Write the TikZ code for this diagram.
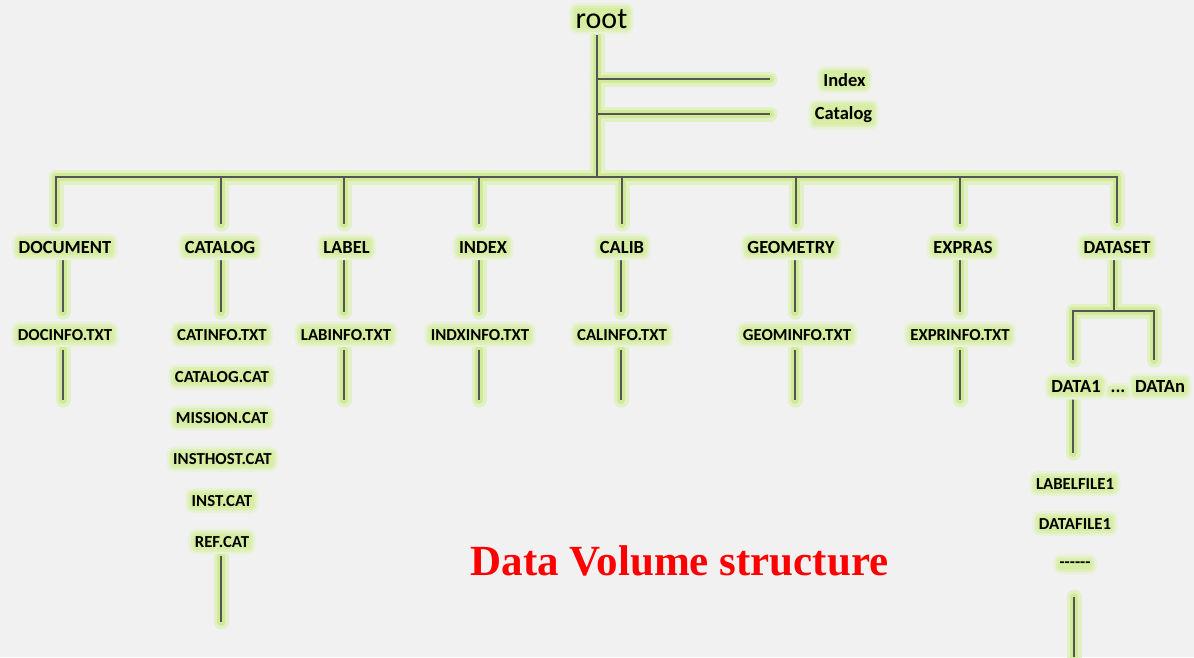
\documentclass[tikz,border=0pt]{standalone}
\usepackage{fontspec}
\setmainfont{Carlito}
\newfontfamily\titlefont{Liberation Serif}

\definecolor{bgpaper}{RGB}{241,241,241}
\definecolor{wiregray}{RGB}{85,85,85}
\definecolor{glow}{RGB}{208,234,150}
\definecolor{glowpale}{RGB}{226,240,198}
\definecolor{haloA}{RGB}{214,237,162}
\definecolor{haloB}{RGB}{222,240,185}
\definecolor{haloC}{RGB}{233,242,215}
\definecolor{titlered}{RGB}{255,0,0}

\tikzset{
  halo/.style={rounded corners=3pt, fill=haloA,
    preaction={draw=haloC, line width=10pt, rounded corners=3pt},
    preaction={draw=haloB, line width=5pt, rounded corners=3pt}},
  dirlbl/.style={halo, anchor=base, inner xsep=1.5pt, inner ysep=2pt,
    font=\bfseries\fontsize{18.5}{20}\selectfont},
  filelbl/.style={halo, anchor=base, inner xsep=1.5pt, inner ysep=2pt,
    font=\bfseries\fontsize{16.8}{19}\selectfont},
  rootlbl/.style={halo, anchor=base, inner xsep=1.5pt, inner ysep=1pt,
    font=\fontsize{30}{32}\selectfont},
  glowwide/.style={draw=glowpale, line width=15pt, line cap=round, line join=round},
  glownarrow/.style={draw=glow, line width=8pt, line cap=round, line join=round},
  wirecore/.style={draw=wiregray, line width=2pt},
}

% every connector of the tree as one path, so it can be stroked in layers
\newcommand\treewires[1]{%
  \draw[#1]
    % root trunk and its two side branches
    (trunktop) -- (trunkbot)
    (597,79) -- (idxend)
    (597,114) -- (catend)
    % main bus and drops to the directories
    (56,224) -- (56,177) -- (1117,177) -- (1117,223)
    (221,177) -- (221,224)
    (344,177) -- (344,224)
    (479,177) -- (479,224)
    (622,177) -- (622,224)
    (796,177) -- (796,224)
    (960,177) -- (960,224)
    % directory to first file
    (63,257) -- (63,312)
    (221,257) -- (221,312)
    (344,257) -- (344,312)
    (479,257) -- (479,312)
    (621,257) -- (621,312)
    (795,257) -- (795,312)
    (960,257) -- (960,312)
    % continuation below the first file
    (63,350) -- (63,400)
    (344,350) -- (344,400)
    (479,350) -- (479,400)
    (621,350) -- (621,400)
    (795,350) -- (795,400)
    (960,350) -- (960,400)
    % continuation below the catalog list
    (221,556) -- (221,622)
    % dataset branch
    (1114,257) -- (1114,311)
    (1073,360) -- (1073,311) -- (1154,311) -- (1154,360)
    (1073,398) -- (1073,453)
    (1074,597) -- (1074,657);
}

\begin{document}
\begin{tikzpicture}[x=1pt, y=-1pt]
  \fill[bgpaper] (0,0) rectangle (1194,657);
  \useasboundingbox (0,0) rectangle (1194,657);

  \coordinate (trunktop) at (597,35);
  \coordinate (trunkbot) at (597,177);
  \coordinate (idxend) at (770,79);
  \coordinate (catend) at (770,114);

  \treewires{glowwide}
  \treewires{glownarrow}
  \treewires{wirecore}

  % root and its entries
  \node[rootlbl] (root) at (601.5,28) {root};
  \node[dirlbl] (idx) at (844.5,86) {Index};
  \node[dirlbl] (cat) at (843.5,119.5) {Catalog};

  % directories
  \node[dirlbl] (document) at (65,253) {DOCUMENT};
  \node[dirlbl] (catalog) at (220,253) {CATALOG};
  \node[dirlbl] (label) at (346.5,253) {LABEL};
  \node[dirlbl] (index) at (483,253) {INDEX};
  \node[dirlbl] (calib) at (622,253) {CALIB};
  \node[dirlbl] (geometry) at (791,253) {GEOMETRY};
  \node[dirlbl] (expras) at (963,253) {EXPRAS};
  \node[dirlbl] (dataset) at (1117,253) {DATASET};

  % files
  \node[filelbl] (docinfo) at (65,340) {DOCINFO.TXT};
  \node[filelbl] (catinfo) at (222,340) {CATINFO.TXT};
  \node[filelbl] (labinfo) at (346,340) {LABINFO.TXT};
  \node[filelbl] (indxinfo) at (480,340) {INDXINFO.TXT};
  \node[filelbl] (calinfo) at (622,340) {CALINFO.TXT};
  \node[filelbl] (geominfo) at (797,340) {GEOMINFO.TXT};
  \node[filelbl] (exprinfo) at (960,340) {EXPRINFO.TXT};

  \node[filelbl] (catalogcat) at (222,382.5) {CATALOG.CAT};
  \node[filelbl] (missioncat) at (222,423.5) {MISSION.CAT};
  \node[filelbl] (insthostcat) at (222.5,464.5) {INSTHOST.CAT};
  \node[filelbl] (instcat) at (222,506) {INST.CAT};
  \node[filelbl] (refcat) at (222,547) {REF.CAT};

  % dataset contents
  \node[dirlbl] (data1) at (1076,392.5) {DATA1};
  \node[dirlbl] (dataellipsis) at (1118,392.5) {...};
  \node[dirlbl] (datan) at (1160,392.5) {DATAn};
  \node[filelbl] (labelfile) at (1075,489) {LABELFILE1};
  \node[filelbl] (datafile) at (1075,529) {DATAFILE1};
  \node[filelbl] (morefiles) at (1075,567) {{-}{-}{-}{-}{-}{-}};

  % caption
  \node[anchor=base, inner sep=0pt, text=titlered,
        font=\titlefont\bfseries\fontsize{43}{46}\selectfont]
        (caption) at (679.5,575) {Data Volume structure};
\end{tikzpicture}
\end{document}
